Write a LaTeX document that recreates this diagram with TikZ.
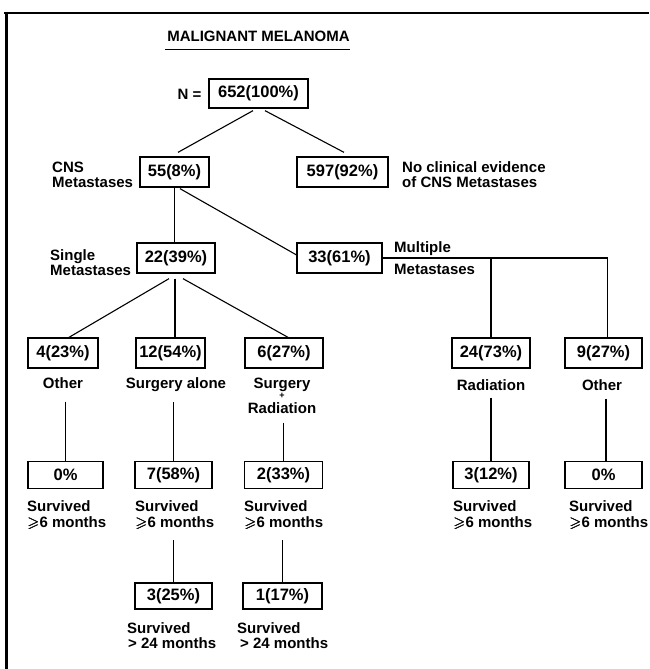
\documentclass[tikz,border=0pt]{standalone}
\usepackage{fontspec}
\usepackage{amssymb}
\usepackage{bm}
\setmainfont{Liberation Sans}
\usetikzlibrary{calc}
\begin{document}
\begin{tikzpicture}[x=1pt,y=-1pt,
  box/.style={draw, line width=1.3pt, inner sep=0pt, minimum height=30pt,
    font=\fontsize{16.5}{16.5}\selectfont\bfseries},
  lbl/.style={inner sep=0pt, align=center,
    font=\fontsize{15}{15}\selectfont\bfseries},
  lbll/.style={lbl, align=left, anchor=north west},
  conn/.style={line width=1.1pt}]
\useasboundingbox (0,0) rectangle (649,669);
% frame (top and left only)
\draw[line width=2.5pt] (4,13) -- (649,13);
\draw[line width=3.5pt] (6.5,12) -- (6.5,669);
% title
\node[lbl] (title) at (258.5,36) {MALIGNANT MELANOMA};
\coordinate (ul) at (0,49.5);
\draw[line width=1pt] ([xshift=-2pt]title.west |- ul) -- (title.east |- ul);
% top
\node[box, minimum width=99pt, minimum height=29pt] (n652) at (258.5,93.5) {652(100\%)};
\node[lbl] (neq) at (189.5,94) {N =};
% level 2
\node[box, minimum width=69pt] (n55) at (174.5,172) {55(8\%)};
\node[box, minimum width=91pt] (n597) at (342.5,172) {597(92\%)};
\node[lbll] (lcns) at (52,161.5) {CNS\\Metastases};
\node[lbll] (lnoc) at (402,161.5) {No clinical evidence\\of CNS Metastases};
% level 3
\node[box, minimum width=78pt] (n22) at (176,258) {22(39\%)};
\node[box, minimum width=85pt] (n33) at (339.5,258) {33(61\%)};
\node[lbll] (lsingle) at (50,249.5) {Single\\Metastases};
\node[lbl, anchor=west] (lmult) at (394,249) {Multiple};
\node[lbl, anchor=west] (lmeta) at (394,269) {Metastases};
% level 4
\node[box, minimum width=70pt] (b4) at (63,353) {4(23\%)};
\node[box, minimum width=69pt] (b12) at (170.5,353) {12(54\%)};
\node[box, minimum width=78pt] (b6) at (284,353) {6(27\%)};
\node[box, minimum width=78pt] (b24) at (491,353) {24(73\%)};
\node[box, minimum width=77pt] (b9) at (603.5,353) {9(27\%)};
\node[lbl] (l4) at (63,383) {Other};
\node[lbl] (l12) at (176,385) {Surgery alone};
\node[lbl] (l6a) at (282,385) {Surgery};
\node[lbl, font=\fontsize{9}{9}\selectfont\bfseries] (l6p) at (282,396) {+};
\node[lbl] (l6b) at (282,408) {Radiation};
\node[lbl] (l24) at (491,385) {Radiation};
\node[lbl] (l9) at (602,385) {Other};
% level 5
\node[box, minimum width=75pt, minimum height=27pt] (s0a) at (65.5,475) {0\%};
\node[box, minimum width=77pt, minimum height=27pt] (s7) at (173.5,475) {7(58\%)};
\node[box, minimum width=78pt, minimum height=27pt] (s2) at (283.5,475) {2(33\%)};
\node[box, minimum width=76pt, minimum height=27pt] (s3) at (491,475) {3(12\%)};
\node[box, minimum width=77pt, minimum height=27pt] (s0b) at (603.5,475) {0\%};
\node[lbll, font=\fontsize{15}{16}\selectfont\bfseries] (r4a) at (27,500.5) {Survived\\$\bm{\geqslant}$6 months};
\node[lbll, font=\fontsize{15}{16}\selectfont\bfseries] (r4b) at (135,500.5) {Survived\\$\bm{\geqslant}$6 months};
\node[lbll, font=\fontsize{15}{16}\selectfont\bfseries] (r4c) at (244,500.5) {Survived\\$\bm{\geqslant}$6 months};
\node[lbll, font=\fontsize{15}{16}\selectfont\bfseries] (r4d) at (453,500.5) {Survived\\$\bm{\geqslant}$6 months};
\node[lbll, font=\fontsize{15}{16}\selectfont\bfseries] (r4e) at (569,500.5) {Survived\\$\bm{\geqslant}$6 months};
% level 6
\node[box, minimum width=77pt, minimum height=26pt] (t3) at (173.5,596) {3(25\%)};
\node[box, minimum width=79pt, minimum height=26pt] (t1) at (282.5,596) {1(17\%)};
\node[lbll] (r5a) at (127,622.5) {Survived\\\hspace{1pt}> 24 months};
\node[lbll] (r5b) at (237,622.5) {Survived\\\hspace{3pt}> 24 months};
% connectors
\draw[conn] ([xshift=-5.5pt,yshift=-2pt]n652.south) -- ([xshift=3.5pt,yshift=4pt]n55.north);
\draw[conn] ([xshift=6.5pt,yshift=-2pt]n652.south) -- ([xshift=1.5pt,yshift=4pt]n597.north);
\draw[conn] (n55.south) -- (n55.south |- n22.north);
\draw[conn] ([xshift=5.5pt,yshift=-1pt]n55.south) -- ($(n33.north west)!0.8!(n33.west)$);
\draw[conn] (n33.east) -| ([xshift=4pt]b9.north);
\draw[conn] (b24.north) |- (n33.east);
\draw[conn] ([xshift=-7pt,yshift=-5pt]n22.south) -- ([xshift=6pt]b4.north);
\draw[conn] ([xshift=-1pt,yshift=-5pt]n22.south) -- ([xshift=-1pt]n22.south |- b12.north);
\draw[conn] ([xshift=7pt,yshift=-5pt]n22.south) -- ([xshift=4pt]b6.north);
\draw[conn, shorten <=13pt] (l4.south -| s0a.north) -- (s0a.north);
\draw[conn, shorten <=10pt] (l12.south -| s7.north) -- (s7.north);
\draw[conn, shorten <=9pt] (l6b.south -| s2.north) -- (s2.north);
\draw[conn, shorten <=7pt] (l24.south -| s3.north) -- (s3.north);
\draw[conn, shorten <=8pt] ([xshift=2.5pt]l9.south -| s0b.north) -- ([xshift=2.5pt]s0b.north);
\draw[conn, shorten <=10pt] (r4b.south -| t3.north) -- (t3.north);
\draw[conn, shorten <=10pt] (r4c.south -| t1.north) -- (t1.north);
\end{tikzpicture}
\end{document}
